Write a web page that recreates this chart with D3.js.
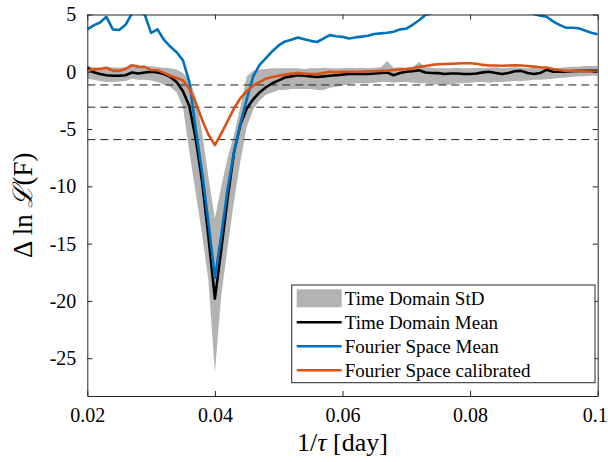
<!DOCTYPE html>
<html>
<head>
<meta charset="utf-8">
<script src="https://cdn.jsdelivr.net/npm/d3@7"></script>
<style>
  body { margin: 0; background: #fff; }
  svg { display: block; }
</style>
</head>
<body>
<div id="chart-area"></div>
<script>
// 1/tau grid, one point every 0.001 day^-1
var freq = d3.range(81).map(function(i) { return 0.02 + i / 1000; });

var tdMean = [0.37, -0.05, -0.2, -0.3, -0.35, -0.35, -0.3, -0.06, -0.15, -0.06,
  0.0, -0.06, -0.2, -0.45, -0.9, -1.7, -3.0, -5.9, -9.6, -14.5,
  -19.8, -15.5, -11.0, -7.0, -4.6, -3.2, -2.4, -1.8, -1.35, -1.0,
  -0.75, -0.5, -0.4, -0.3, -0.35, -0.4, -0.45, -0.4, -0.35, -0.3,
  -0.25, -0.2, -0.2, -0.2, -0.2, -0.15, -0.1, -0.06, -0.3, -0.1,
  0.0, 0.05, 0.14, -0.06, -0.1, -0.12, -0.2, -0.15, -0.15, -0.2,
  -0.2, -0.15, -0.05, 0.0, -0.1, -0.2, -0.1, 0.05, 0.08, -0.1,
  -0.2, -0.1, 0.17, 0.0, 0.0, 0.0, 0.05, 0.08, 0.08, 0.08, 0.08];

var tdHi = [0.5, 0.4, 0.35, 0.4, 0.4, 0.35, 0.4, 0.5, 0.5, 0.45,
  0.5, 0.4, 0.35, 0.3, 0.2, -0.1, -0.7, -2.2, -5.3, -9.2,
  -12.8, -10.0, -7.5, -5.5, -3.0, -0.4, 0.1, 0.2, 0.25, 0.3,
  0.3, 0.3, 0.3, 0.3, 0.25, 0.3, 0.3, 0.35, 0.3, 0.3,
  0.3, 0.35, 0.3, 0.35, 0.3, 0.35, 0.4, 0.95, 0.35, 0.4,
  0.35, 0.4, 0.86, 0.4, 0.35, 0.3, 0.3, 0.3, 0.35, 0.3,
  0.3, 0.35, 0.3, 0.35, 0.4, 0.3, 0.35, 0.4, 0.35, 0.3,
  0.35, 0.4, 0.4, 0.3, 0.35, 0.4, 0.45, 0.45, 0.5, 0.5, 0.5];

var tdLo = [-0.6, -0.7, -0.8, -0.9, -0.9, -0.85, -0.8, -0.6, -0.7, -0.7,
  -0.75, -0.9, -1.1, -1.3, -1.8, -3.1, -7.0, -10.6, -14.2, -18.3,
  -26.3, -19.5, -15.3, -11.3, -7.8, -4.8, -3.3, -2.5, -2.0, -1.8,
  -1.6, -1.6, -1.5, -1.5, -1.5, -1.5, -1.6, -1.6, -1.4, -1.3,
  -1.2, -1.1, -1.0, -1.0, -1.0, -0.95, -0.9, -0.9, -0.95, -0.9,
  -0.9, -0.95, -1.0, -1.0, -1.1, -1.1, -1.15, -1.1, -1.0, -1.0,
  -0.95, -0.9, -0.9, -0.95, -0.9, -0.9, -0.85, -0.8, -0.8, -0.75,
  -0.7, -0.7, -0.65, -0.6, -0.55, -0.5, -0.45, -0.4, -0.4, -0.35, -0.35];

var fsMean = [3.7, 4.05, 4.3, 4.8, 3.7, 3.65, 4.1, 5.1, 5.3, 5.0,
  3.4, 3.7, 2.8, 2.2, 1.7, 1.0, -0.9, -5.0, -8.8, -13.2,
  -18.0, -14.3, -10.2, -7.0, -4.5, -2.4, -0.4, 0.6, 1.2, 1.8,
  2.3, 2.65, 2.8, 3.0, 2.85, 2.7, 2.6, 2.9, 3.2, 3.1,
  3.05, 2.9, 3.0, 3.07, 3.15, 3.3, 3.35, 3.4, 3.5, 3.7,
  3.76, 4.1, 4.5, 4.95, 5.1, 5.4, 5.8, 6.1, 6.3, 6.5,
  6.6, 6.5, 6.4, 6.2, 6.0, 5.8, 5.6, 5.4, 5.3, 5.2,
  5.05, 4.9, 4.8, 4.4, 4.1, 3.85, 3.85, 3.8, 3.6, 3.4, 3.27];

var fsCal = [0.14, 0.2, 0.25, 0.35, 0.1, 0.08, 0.25, 0.57, 0.45, 0.43,
  0.15, 0.14, -0.1, -0.35, -0.55, -0.75, -1.5, -2.7, -4.2, -5.5,
  -6.4, -5.4, -4.3, -3.2, -2.3, -1.7, -1.2, -0.9, -0.6, -0.45,
  -0.35, -0.25, -0.15, -0.12, -0.15, -0.2, -0.2, -0.1, 0.0, -0.05,
  0.0, 0.0, 0.0, 0.0, 0.05, 0.05, 0.08, 0.1, 0.15, 0.2,
  0.23, 0.3, 0.43, 0.5, 0.6, 0.66, 0.68, 0.7, 0.72, 0.75,
  0.75, 0.7, 0.6, 0.55, 0.55, 0.52, 0.55, 0.57, 0.55, 0.5,
  0.45, 0.4, 0.37, 0.25, 0.15, 0.08, 0.08, 0.08, 0.05, 0.02, 0.0];

// significance thresholds (2 dof: 1, 2, 3 sigma)
var thresholds = [-1.15, -3.09, -5.92];

var xTicks = [0.02, 0.04, 0.06, 0.08, 0.1];
var xTickLabels = ["0.02", "0.04", "0.06", "0.08", "0.1"];
var yTicks = [-25, -20, -15, -10, -5, 0, 5];

var legendLabels = ["Time Domain StD", "Time Domain Mean", "Fourier Space Mean", "Fourier Space calibrated"];

var margin = { top: 14.5, right: 10.3, bottom: 66, left: 87.3 },
    svgWidth = 608,
    svgHeight = 462,
    width = svgWidth - margin.left - margin.right,
    height = svgHeight - margin.top - margin.bottom;

var serif = "'Liberation Serif', 'DejaVu Serif', 'Times New Roman', serif";
var axisColor = "#262626";

var svg = d3.select("#chart-area")
            .append("svg")
            .attr("width", svgWidth)
            .attr("height", svgHeight);

svg.append("defs").append("clipPath")
   .attr("id", "plot-clip")
   .append("rect")
   .attr("width", width)
   .attr("height", height);

var g = svg.append("g")
           .attr("transform", "translate(" + margin.left + "," + margin.top + ")");

var x = d3.scaleLinear().domain([0.02, 0.1]).range([0, width]);
var y = d3.scaleLinear().domain([-28.3, 5]).range([height, 0]);

var plot = g.append("g").attr("clip-path", "url(#plot-clip)");

// std band
var band = d3.area()
             .x(function(d, i) { return x(freq[i]); })
             .y0(function(d, i) { return y(tdLo[i]); })
             .y1(function(d, i) { return y(tdHi[i]); });

plot.append("path")
    .datum(freq)
    .attr("fill", "#b3b3b3")
    .attr("d", band);

// threshold lines
plot.selectAll(".thr")
    .data(thresholds)
    .enter().append("line")
    .attr("class", "thr")
    .attr("x1", 0)
    .attr("x2", width)
    .attr("y1", function(d) { return y(d); })
    .attr("y2", function(d) { return y(d); })
    .attr("stroke", "#222")
    .attr("stroke-width", 1)
    .attr("stroke-dasharray", "8,5");

var line = function(vals) {
  return d3.line()
           .x(function(d, i) { return x(freq[i]); })
           .y(function(d) { return y(d); })(vals);
};

var series = [
  { vals: tdMean, color: "#000000" },
  { vals: fsMean, color: "#0072BD" },
  { vals: fsCal,  color: "#D95319" }
];

plot.selectAll(".series")
    .data(series)
    .enter().append("path")
    .attr("class", "series")
    .attr("fill", "none")
    .attr("stroke", function(d) { return d.color; })
    .attr("stroke-width", 2.6)
    .attr("stroke-linejoin", "round")
    .attr("d", function(d) { return line(d.vals); });

// axes, MATLAB style box with inward ticks
function styleAxis(sel) {
  sel.attr("font-family", serif).attr("font-size", 20);
  sel.select(".domain").attr("stroke", axisColor);
  sel.selectAll(".tick line").attr("stroke", axisColor);
  sel.selectAll(".tick text").attr("fill", "#000");
}

var xAxisCall = d3.axisBottom(x)
                  .tickValues(xTicks)
                  .tickFormat(function(d, i) { return xTickLabels[i]; })
                  .tickSize(-5)
                  .tickSizeOuter(0)
                  .tickPadding(12);

var xAxisGroup = g.append("g")
                  .attr("transform", "translate(0," + height + ")")
                  .call(xAxisCall)
                  .call(styleAxis);

// keep the last label inside the window
xAxisGroup.selectAll(".tick text")
          .filter(function(d) { return d === 0.1; })
          .attr("dx", -3);

g.append("g")
 .call(d3.axisTop(x).tickValues(xTicks).tickFormat("").tickSize(-5).tickSizeOuter(0))
 .call(styleAxis);

var yAxisCall = d3.axisLeft(y)
                  .tickValues(yTicks)
                  .tickFormat(function(d) { return d < 0 ? "-" + Math.abs(d) : d; })
                  .tickSize(-5)
                  .tickSizeOuter(0)
                  .tickPadding(11);

g.append("g")
 .call(yAxisCall)
 .call(styleAxis);

g.append("g")
 .attr("transform", "translate(" + width + ",0)")
 .call(d3.axisRight(y).tickValues(yTicks).tickFormat("").tickSize(-5).tickSizeOuter(0))
 .call(styleAxis);

// axis labels
var xLabel = g.append("text")
              .attr("x", width / 2)
              .attr("y", height + 55)
              .attr("text-anchor", "middle")
              .attr("font-family", serif)
              .attr("font-size", 26);
xLabel.append("tspan").text("1/");
xLabel.append("tspan").attr("font-style", "italic").text("τ");
xLabel.append("tspan").text(" [day]");

var yLabel = g.append("text")
              .attr("transform", "translate(" + (-55) + "," + (height / 2) + ") rotate(-90)")
              .attr("text-anchor", "middle")
              .attr("font-family", serif)
              .attr("font-size", 27);
yLabel.append("tspan").text("Δ ln ");
yLabel.append("tspan").attr("font-style", "italic").text("ℒ");
yLabel.append("tspan").text("(F)");

// legend
var lg = svg.append("g").attr("transform", "translate(291.7,285)");

lg.append("rect")
  .attr("width", 303.3)
  .attr("height", 97.7)
  .attr("fill", "#fff")
  .attr("stroke", axisColor)
  .attr("stroke-width", 1);

var rows = lg.selectAll(".row")
             .data(legendLabels)
             .enter().append("g")
             .attr("class", "row")
             .attr("transform", function(d, i) { return "translate(5," + (13.3 + i * 24) + ")"; });

rows.each(function(d, i) {
  var r = d3.select(this);
  if (i === 0) {
    r.append("rect")
     .attr("x", 0).attr("y", -9)
     .attr("width", 45).attr("height", 18)
     .attr("fill", "#b3b3b3");
  } else {
    r.append("line")
     .attr("x1", 0).attr("x2", 45)
     .attr("stroke", series[i - 1].color)
     .attr("stroke-width", 2.6);
  }
  r.append("text")
   .attr("x", 48)
   .attr("dy", "0.35em")
   .attr("font-family", serif)
   .attr("font-size", 19)
   .text(d);
});
</script>
</body>
</html>
